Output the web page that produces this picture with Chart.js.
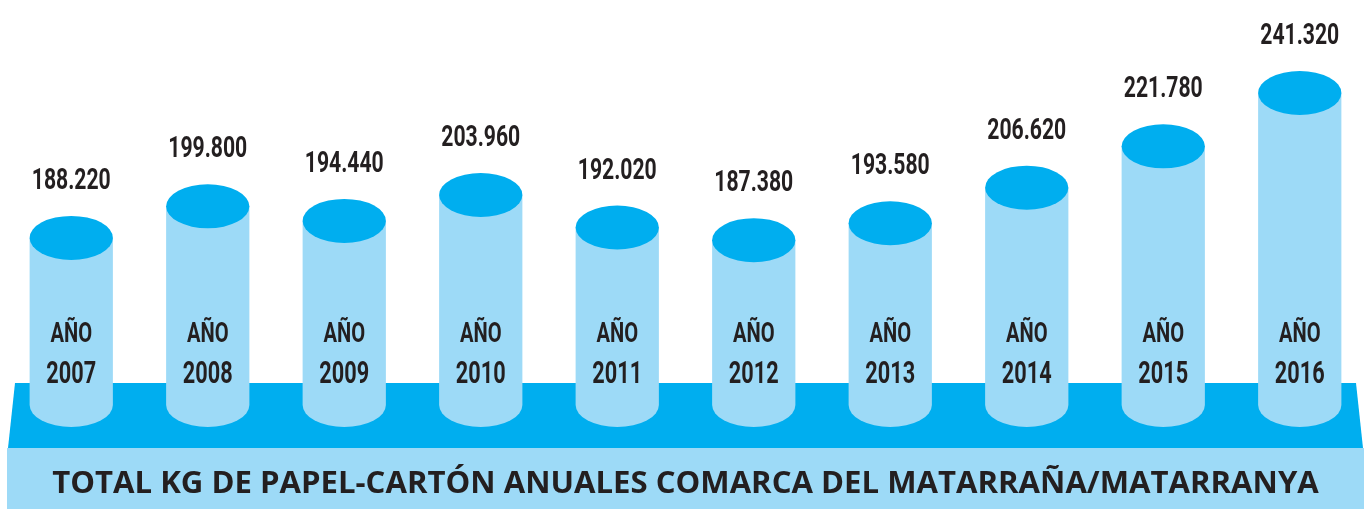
<!DOCTYPE html>
<html><head><meta charset="utf-8">
<style>html,body{margin:0;padding:0;background:#fff;overflow:hidden;width:1364px;height:509px}canvas{display:block}</style>
<script src="https://cdn.jsdelivr.net/npm/chart.js@4.4.0/dist/chart.umd.min.js"></script>
</head><body>
<canvas id="c" width="1368" height="509"></canvas>
<script>
const years = ['2007','2008','2009','2010','2011','2012','2013','2014','2015','2016'];
const categories = years.map(y => ['AÑO', y]);
const values = [188220, 199800, 194440, 203960, 192020, 187380, 193580, 206620, 221780, 241320];
const valueLabels = ['188.220','199.800','194.440','203.960','192.020','187.380','193.580','206.620','221.780','241.320'];
const titleText = 'TOTAL KG DE PAPEL-CARTÓN ANUALES COMARCA DEL MATARRAÑA/MATARRANYA';

const DARK = '#00aeef', LIGHT = '#9ddaf7', INK = '#231f20';

const TITLE_FAMILY = 'Open Sans';
const mc = document.createElement('canvas').getContext('2d');
mc.font = 'bold 32px "' + TITLE_FAMILY + '"';
const titleSize = Math.min(34, 32 * 1267 / mc.measureText(titleText).width);

function condensedText(ctx, text, x, y, size, sx) {
  ctx.save();
  ctx.translate(x, y);
  ctx.scale(sx, 1);
  ctx.font = 'bold ' + size + 'px Roboto';
  ctx.textAlign = 'center';
  ctx.textBaseline = 'alphabetic';
  ctx.fillStyle = INK;
  ctx.fillText(text, 0, 0);
  ctx.restore();
}

const cylinders = {
  id: 'cylinders',
  beforeDraw(chart) {
    const ctx = chart.ctx;
    ctx.save();
    ctx.fillStyle = DARK;
    ctx.beginPath();
    ctx.moveTo(15, 383); ctx.lineTo(1356, 383); ctx.lineTo(1363, 448); ctx.lineTo(8, 448);
    ctx.closePath(); ctx.fill();
    ctx.fillStyle = LIGHT;
    ctx.fillRect(7, 448, 1361, 61);
    ctx.restore();
  },
  afterDatasetsDraw(chart) {
    const ctx = chart.ctx;
    const meta = chart.getDatasetMeta(0);
    meta.data.forEach((bar, i) => {
      const p = bar.getProps(['x', 'y', 'base', 'width'], true);
      const rx = p.width / 2, ry = 22;
      ctx.save();
      ctx.fillStyle = LIGHT;
      ctx.beginPath();
      ctx.moveTo(p.x - rx, p.y);
      ctx.lineTo(p.x - rx, p.base);
      ctx.ellipse(p.x, p.base, rx, ry, 0, Math.PI, 0, true);
      ctx.lineTo(p.x + rx, p.y);
      ctx.closePath();
      ctx.fill();
      ctx.fillStyle = DARK;
      ctx.beginPath();
      ctx.ellipse(p.x, p.y, rx, ry, 0, 0, Math.PI * 2);
      ctx.fill();
      ctx.restore();
      condensedText(ctx, valueLabels[i], p.x, p.y - 49, 29, 0.73);
      const lab = chart.data.labels[i];
      condensedText(ctx, lab[0], p.x, 342, 28, 0.72);
      condensedText(ctx, lab[1], p.x, 383, 31, 0.70);
    });
  }
};

new Chart(document.getElementById('c'), {
  type: 'bar',
  data: {
    labels: categories,
    datasets: [{
      label: 'Total kg papel-cartón',
      data: values,
      base: 127000,
      backgroundColor: 'rgba(0,0,0,0)',
      borderWidth: 0,
      categoryPercentage: 1,
      barPercentage: 0.61
    }]
  },
  options: {
    responsive: false,
    devicePixelRatio: 1,
    animation: false,
    layout: { padding: { left: 3, right: 0, top: 0, bottom: 0 } },
    scales: {
      x: { display: false },
      y: { display: false, min: 105000, max: 275400 }
    },
    plugins: {
      legend: { display: false },
      tooltip: { enabled: false },
      title: {
        display: true,
        position: 'bottom',
        text: titleText,
        color: INK,
        font: { family: TITLE_FAMILY, weight: 'bold', size: titleSize, lineHeight: '38px' },
        padding: { top: 0, bottom: 6 }
      }
    }
  },
  plugins: [cylinders]
});
</script>
</body></html>
